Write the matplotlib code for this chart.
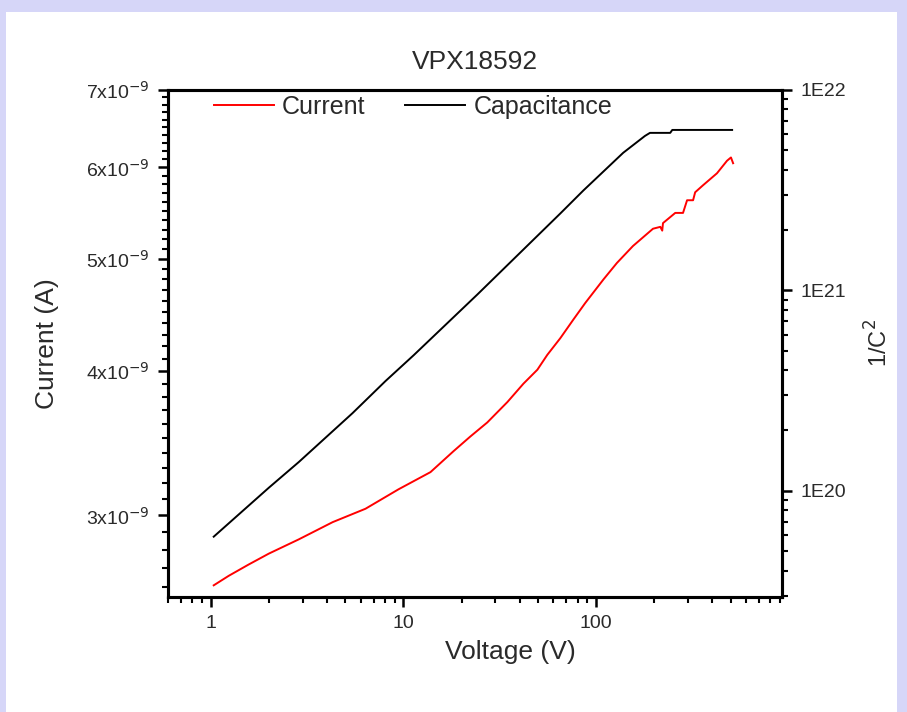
import matplotlib
matplotlib.use("Agg")
import matplotlib.pyplot as plt
from matplotlib.patches import Rectangle
from matplotlib.ticker import FixedLocator, FixedFormatter, LogLocator, NullFormatter
import numpy as np

plt.rcParams['font.family'] = ['Liberation Sans', 'DejaVu Sans']

# Capacitance (1/C^2) curve
cap_v = [1.036, 2.0, 2.86, 5.44, 8.07, 11.3, 24.2, 65.1, 85.7, 138, 179, 190, 242, 248, 507]
cap_c = [5.9e19, 1.035e20, 1.39e20, 2.44e20, 3.53e20, 4.75e20, 9.55e20, 2.42e21, 3.15e21,
         4.86e21, 5.90e21, 6.11e21, 6.11e21, 6.32e21, 6.32e21]

# Current curve
cur_v = [1.036, 1.24, 1.57, 2.0, 2.86, 4.29, 6.35, 9.42, 13.8, 18.2, 22.2, 27.2, 34.6, 41.9,
         49.5, 55.7, 65.1, 76.0, 87.7, 109, 128, 155, 197, 215, 220, 222, 257, 282, 296,
         318, 326, 358, 423, 477, 500, 513]
cur_i = [2.61e-9, 2.66e-9, 2.72e-9, 2.78e-9, 2.86e-9, 2.96e-9, 3.04e-9, 3.16e-9, 3.27e-9,
         3.41e-9, 3.51e-9, 3.61e-9, 3.76e-9, 3.90e-9, 4.01e-9, 4.13e-9, 4.27e-9, 4.43e-9,
         4.58e-9, 4.80e-9, 4.96e-9, 5.13e-9, 5.31e-9, 5.33e-9, 5.29e-9, 5.37e-9, 5.48e-9,
         5.48e-9, 5.62e-9, 5.62e-9, 5.71e-9, 5.79e-9, 5.93e-9, 6.08e-9, 6.12e-9, 6.05e-9]

left_ticks = [3e-9, 4e-9, 5e-9, 6e-9, 7e-9]
left_labels = [r'3x10$^{-9}$', r'4x10$^{-9}$', r'5x10$^{-9}$', r'6x10$^{-9}$', r'7x10$^{-9}$']
right_ticks = [1e20, 1e21, 1e22]
right_labels = ['1E20', '1E21', '1E22']
x_ticks = [1, 10, 100]
x_labels = ['1', '10', '100']

W, H = 907, 712
fig = plt.figure(figsize=(W / 100, H / 100), dpi=100)
fig.patch.set_facecolor('#d6d6f8')
fig.patches.append(Rectangle((6 / W, 0), (897 - 6) / W, (H - 12) / H, transform=fig.transFigure,
                             facecolor='white', edgecolor='none', zorder=-10))

ax = fig.add_axes([168 / W, 1 - 597 / H, (782 - 168) / W, (597 - 90) / H])
ax.set_facecolor('white')
txtc = '#2a2a2a'

l1, = ax.plot(cur_v, cur_i, color='red', lw=1.4, label='Current')
ax.set_xscale('log')
ax.set_yscale('log')
ax.set_xlim(0.6, 920)
ax.set_ylim(2.55e-9, 7e-9)

ax.yaxis.set_major_locator(FixedLocator(left_ticks))
ax.yaxis.set_major_formatter(FixedFormatter(left_labels))
ax.yaxis.set_minor_locator(FixedLocator([v * 1e-9 for v in np.arange(2.6, 7.0, 0.1)]))
ax.yaxis.set_minor_formatter(NullFormatter())
ax.xaxis.set_major_locator(FixedLocator(x_ticks))
ax.xaxis.set_major_formatter(FixedFormatter(x_labels))
ax.xaxis.set_minor_locator(LogLocator(base=10, subs=np.arange(2, 10)))
ax.xaxis.set_minor_formatter(NullFormatter())

ax2 = ax.twinx()
l2, = ax2.plot(cap_v, cap_c, color='black', lw=1.4, label='Capacitance')
ax2.set_yscale('log')
ax2.set_ylim(2.95e19, 1e22)
ax2.yaxis.set_major_locator(FixedLocator(right_ticks))
ax2.yaxis.set_major_formatter(FixedFormatter(right_labels))
ax2.yaxis.set_minor_locator(LogLocator(base=10, subs=np.arange(2, 10)))
ax2.yaxis.set_minor_formatter(NullFormatter())

for a in (ax, ax2):
    for s in a.spines.values():
        s.set_linewidth(2.2)
ax.tick_params(axis='both', which='major', direction='out', length=7, width=1.8,
               labelsize=14, labelcolor=txtc, right=False, top=False)
ax.tick_params(axis='both', which='minor', direction='out', length=4, width=1.5,
               right=False, top=False)
ax2.tick_params(axis='y', which='major', direction='out', length=7, width=1.8,
                labelsize=14, labelcolor=txtc, pad=6)
ax2.tick_params(axis='y', which='minor', direction='out', length=4, width=1.5)
ax.tick_params(axis='x', pad=6)
ax.tick_params(axis='y', pad=6)

ax.set_xlabel('Voltage (V)', fontsize=19, color=txtc)
ax.xaxis.set_label_coords(0.557, -0.085)
ax.set_ylabel('Current (A)', fontsize=19, color=txtc, labelpad=20)
ax2.set_ylabel('1/C$^2$', fontsize=17, color=txtc, labelpad=14)
ax.set_title('VPX18592', fontsize=19, color=txtc, pad=15)

leg = ax.legend([l1, l2], ['Current', 'Capacitance'], ncol=2, loc='upper left',
                bbox_to_anchor=(0.038, 1.035), frameon=False, fontsize=18,
                handlelength=2.4, handletextpad=0.32, columnspacing=1.6)
for t in leg.get_texts():
    t.set_color(txtc)

fig.savefig('out.png', dpi=100, facecolor=fig.get_facecolor())
